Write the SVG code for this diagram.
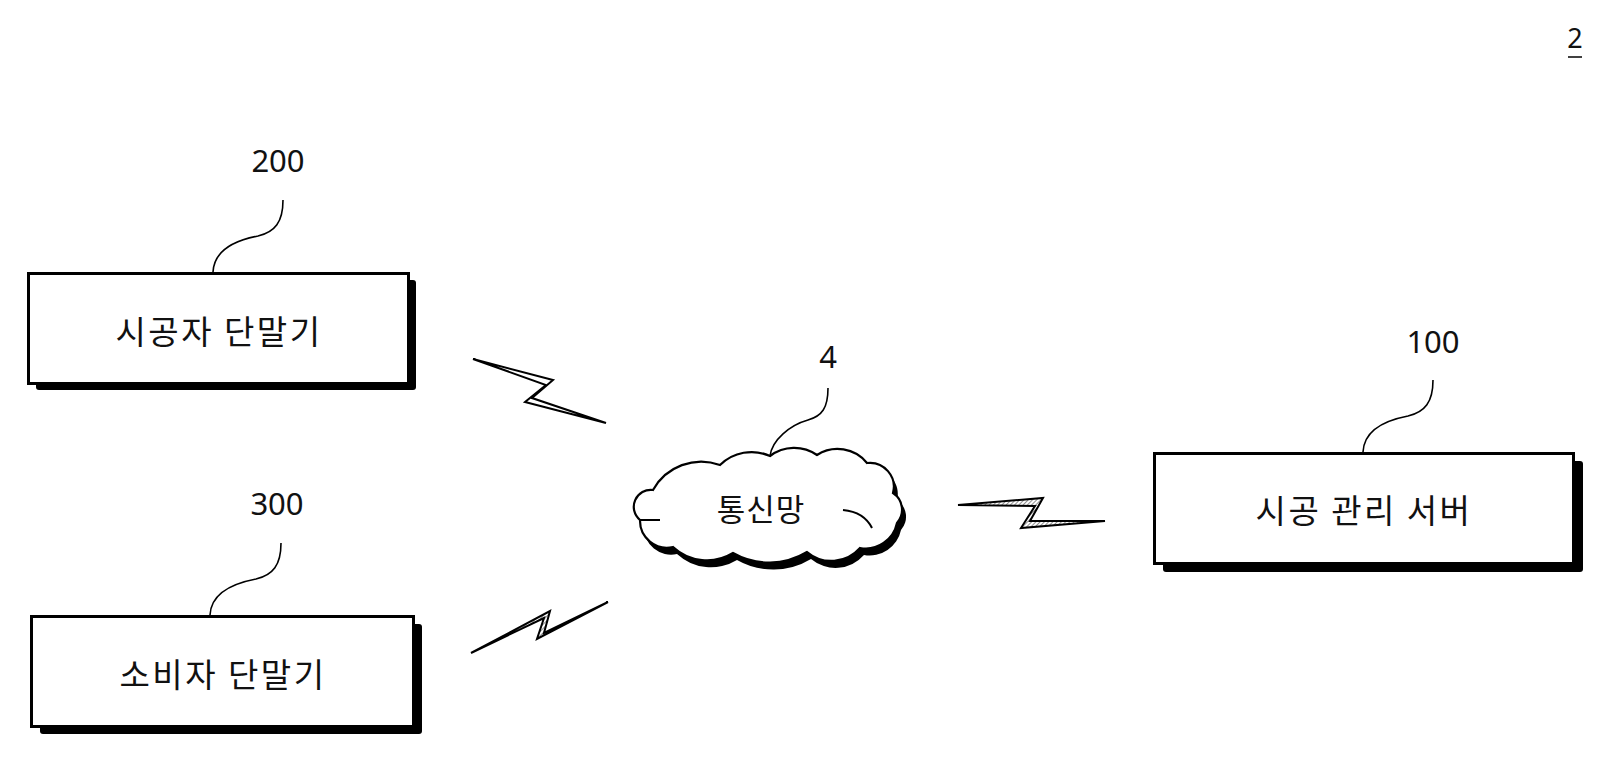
<svg xmlns="http://www.w3.org/2000/svg" width="1616" height="782" viewBox="0 0 1616 782">
  <style>
    .box { fill: #fff; stroke: #000; stroke-width: 3; }
    .shadow { fill: #000; }
    .lbl { font-family: "Noto Sans CJK KR", "Noto Sans", sans-serif; font-size: 33px; fill: #111; text-anchor: middle; letter-spacing: 2.5px; }
    .num { font-family: "Noto Sans", "Liberation Sans", sans-serif; font-size: 31px; fill: #111; text-anchor: middle; }
    .lead { fill: none; stroke: #000; stroke-width: 1.6; }
    .bolt { stroke: #000; stroke-width: 2; stroke-linejoin: miter; }
  </style>
  <defs>
    <pattern id="hatch" width="3" height="3" patternUnits="userSpaceOnUse" patternTransform="rotate(45)">
      <line x1="0" y1="0" x2="0" y2="3" stroke="#444" stroke-width="1.2"/>
    </pattern>
  </defs>
  <rect width="1616" height="782" fill="#fff"/>

  <g id="fig-number">
    <text x="1575" y="48" class="num" style="font-size:27px">2</text>
    <line x1="1568" y1="57" x2="1582" y2="57" stroke="#111" stroke-width="1.6"/>
  </g>

  <g id="node-200">
    <rect x="36" y="280" width="380" height="110" rx="3" class="shadow"/>
    <rect x="28.5" y="273.5" width="380" height="110" class="box"/>
    <text x="219" y="344" class="lbl">시공자 단말기</text>
    <text x="278" y="172" class="num">200</text>
    <path d="M283,200 C283,222 275,232 258,236 C232,241 214,252 213,272" class="lead"/>
  </g>

  <g id="node-300">
    <rect x="40" y="624" width="382" height="110" rx="3" class="shadow"/>
    <rect x="31.5" y="616.5" width="382" height="110" class="box"/>
    <text x="223" y="687" class="lbl">소비자 단말기</text>
    <text x="277" y="515" class="num">300</text>
    <path d="M281,543 C281,565 273,575 256,579 C230,584 211,595 210,615" class="lead"/>
  </g>

  <g id="node-100">
    <rect x="1163" y="461" width="420" height="111" rx="3" class="shadow"/>
    <rect x="1154.5" y="453.5" width="419" height="110" class="box"/>
    <text x="1364" y="523" class="lbl">시공 관리 서버</text>
    <text x="1433" y="353" class="num">100</text>
    <path d="M1433,380 C1433,402 1425,412 1408,416 C1382,421 1364,432 1363,452" class="lead"/>
  </g>

  <g id="node-4">
    <path transform="translate(4,7)" class="shadow" d="M653,490 A55,55 0 0 1 720,465 A45,45 0 0 1 770,456 A40,40 0 0 1 817,455 A38,38 0 0 1 867,463 A24,24 0 0 1 893,493 A20,20 0 0 1 897,523 A32,32 0 0 1 860,548 A38,38 0 0 1 807,552 A73,73 0 0 1 733,553 A50,50 0 0 1 673,547 A27,27 0 0 1 640,520 A17,17 0 0 1 653,490 Z"/>
    <path fill="#fff" stroke="#000" stroke-width="2.2" d="M653,490 A55,55 0 0 1 720,465 A45,45 0 0 1 770,456 A40,40 0 0 1 817,455 A38,38 0 0 1 867,463 A24,24 0 0 1 893,493 A20,20 0 0 1 897,523 A32,32 0 0 1 860,548 A38,38 0 0 1 807,552 A73,73 0 0 1 733,553 A50,50 0 0 1 673,547 A27,27 0 0 1 640,520 A17,17 0 0 1 653,490 Z"/>
    <path d="M640,520 L660,520" fill="none" stroke="#000" stroke-width="2"/>
    <path d="M843,510 Q864,512 872,528" fill="none" stroke="#000" stroke-width="2"/>
    <text x="761" y="521" class="lbl" style="font-size:31px;letter-spacing:1px">통신망</text>
    <text x="828" y="368" class="num">4</text>
    <path d="M828,388 C828,408 822,416 808,420 C790,425 772,440 770,456" class="lead"/>
  </g>

  <g id="connectors">
    <polygon class="bolt" fill="#fff" points="473,359 553,380 532,398 606,423 525,402 546,385"/>
    <polygon class="bolt" fill="url(#hatch)" points="471,653 550,611 544,633 608,602 537,639 544,618"/>
    <polygon class="bolt" fill="url(#hatch)" points="958,505 1043,498 1030,521 1105,521 1021,528 1035,506"/>
  </g>
</svg>
